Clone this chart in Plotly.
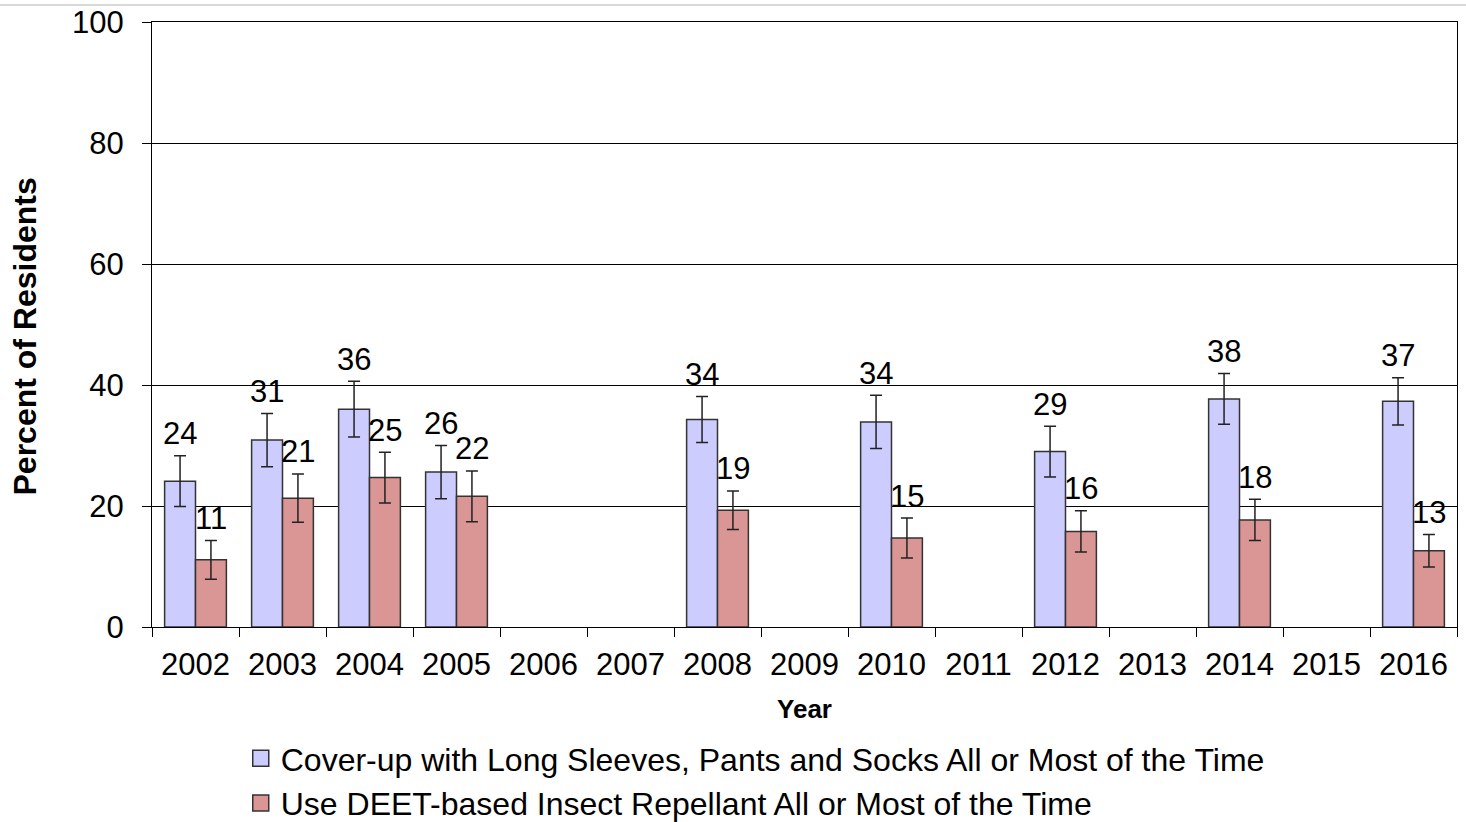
import plotly.graph_objects as go

years = [str(y) for y in range(2002, 2017)]

# None = not surveyed that year
cover_up = [24.1, 30.9, 36.0, 25.6, None, None, 34.3, None, 33.9, None, 29.0, None, 37.7, None, 37.3]
cover_up_err = [4.2, 4.4, 4.6, 4.4, None, None, 3.8, None, 4.4, None, 4.2, None, 4.2, None, 3.9]

deet = [11.1, 21.3, 24.7, 21.6, None, None, 19.3, None, 14.7, None, 15.8, None, 17.7, None, 12.6]
deet_err = [3.2, 4.0, 4.2, 4.2, None, None, 3.2, None, 3.3, None, 3.4, None, 3.4, None, 2.7]

names = [
    "Cover-up with Long Sleeves, Pants and Socks All or Most of the Time",
    "Use DEET-based Insect Repellant All or Most of the Time",
]
colors = ["#ccccff", "#da9694"]

FONT = "Liberation Sans, Arial, sans-serif"
W, H = 1466, 822
L, R, T, B = 152, 9, 22, 195

fig = go.Figure()
for vals, errs, name, col in [(cover_up, cover_up_err, names[0], colors[0]),
                              (deet, deet_err, names[1], colors[1])]:
    fig.add_trace(go.Bar(
        x=years, y=vals, name=name, showlegend=False,
        marker=dict(color=col, line=dict(color="#333333", width=1.5)),
        error_y=dict(type="data", array=errs, color="#222222", thickness=1.5, width=6),
    ))

# legend-only entries so the swatches can be bigger than plotly's bar swatch
for name, col in zip(names, colors):
    fig.add_trace(go.Scatter(
        x=[None], y=[None], mode="markers", name=name, legendgroup=name,
        marker=dict(symbol="square", size=16, color=col, line=dict(color="#333333", width=1.5)),
    ))

# value labels sit just above the error bar caps
# (numeric-looking category names would be read as serial numbers, so use the index)
for vals, errs, shift in [(cover_up, cover_up_err, -15.5), (deet, deet_err, 15.5)]:
    for i, (v, e) in enumerate(zip(vals, errs)):
        if v is None:
            continue
        fig.add_annotation(
            x=i, y=v + e, text=f"{v:.0f}", showarrow=False,
            xshift=shift, yshift=22, yanchor="middle",
            font=dict(family=FONT, size=31, color="black"),
        )

# y title as an annotation: it sits a bit below the plot's middle in the original
fig.add_annotation(
    xref="paper", yref="paper", x=0, y=0.5, xshift=-128, yshift=-12,
    text="<b>Percent of Residents</b>", textangle=-90, showarrow=False,
    xanchor="center", yanchor="middle", font=dict(family=FONT, size=32, color="black"),
)

# faint border line across the top of the image
ytop = 1 + (T - 5) / (H - T - B)
fig.add_shape(type="line", xref="paper", yref="paper",
              x0=-L / (W - L - R), x1=1 + R / (W - L - R), y0=ytop, y1=ytop,
              line=dict(color="#cccccc", width=1.5))

fig.update_layout(
    width=W, height=H,
    margin=dict(l=L, r=R, t=T, b=B, autoexpand=False),
    paper_bgcolor="white", plot_bgcolor="white",
    barmode="group", bargap=0.29, bargroupgap=0,
    font=dict(family=FONT, size=31, color="black"),
    legend=dict(
        orientation="v", x=0.068, y=-0.172, xanchor="left", yanchor="top",
        font=dict(family=FONT, size=32, color="black"),
        traceorder="normal", tracegroupgap=4, itemclick=False, bgcolor="rgba(0,0,0,0)",
    ),
    xaxis=dict(
        type="category", tickson="boundaries", ticks="outside", ticklen=9,
        tickcolor="black", showline=True, linecolor="black", linewidth=1.2, mirror=True,
        showgrid=False, tickfont=dict(size=31), ticklabelstandoff=10, tickangle=0,
        title=dict(text="<b>Year</b>", font=dict(size=26), standoff=18),
    ),
    yaxis=dict(
        range=[0, 100], tickvals=[0, 20, 40, 60, 80, 100], ticks="outside", ticklen=9,
        tickcolor="black", showline=True, linecolor="black", linewidth=1.2, mirror=True,
        showgrid=True, gridcolor="black", gridwidth=1, zeroline=False,
        tickfont=dict(size=31), ticklabelstandoff=12, ticklabeloverflow="allow",
    ),
)

# drop the browser's default 8px body margin so the figure fills the window exactly
fig.write_html(
    "out.html",
    config={"displayModeBar": False},
    post_script="document.body.style.margin='0';document.documentElement.style.overflow='hidden';",
)
